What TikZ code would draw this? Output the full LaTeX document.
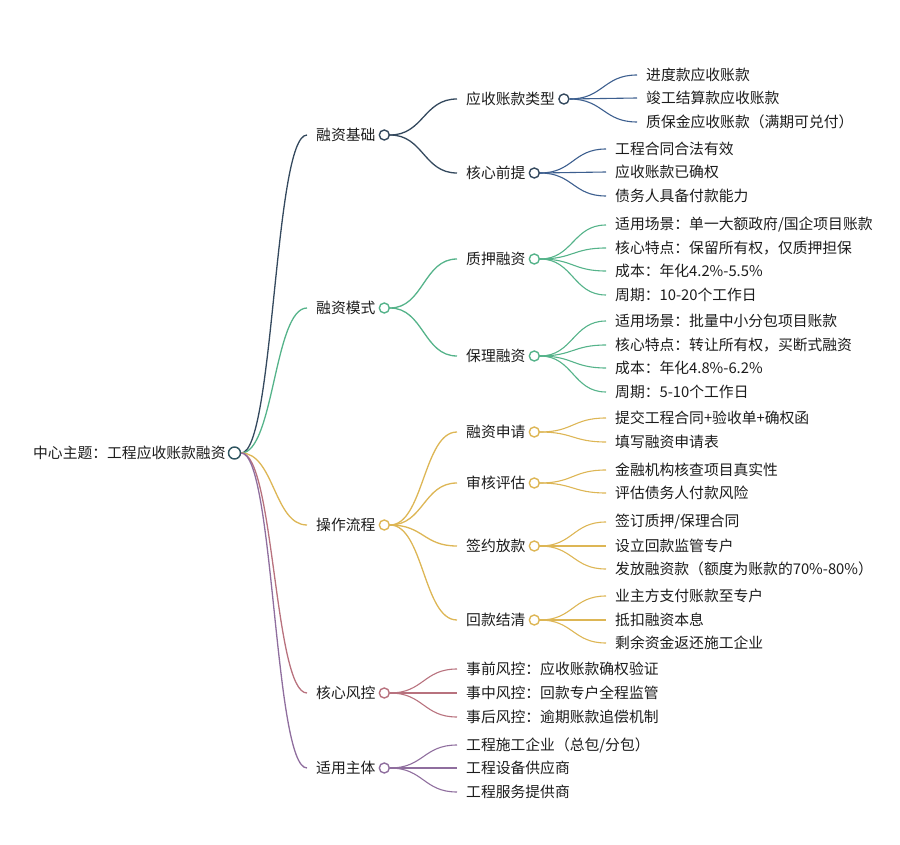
\documentclass[tikz,border=0pt]{standalone}
\usepackage{fontspec}
\setmainfont{Noto Sans CJK SC}
\usetikzlibrary{positioning,calc}
\definecolor{ink}{HTML}{1C1C1C}
\definecolor{rootc}{HTML}{2F5560}
\definecolor{navy}{HTML}{34495E}
\definecolor{steel}{HTML}{3D5F8F}
\definecolor{mint}{HTML}{55B38A}
\definecolor{gold}{HTML}{DDB655}
\definecolor{rose}{HTML}{B8727E}
\definecolor{plum}{HTML}{8F6E9E}

\begin{document}
\begin{tikzpicture}[x=1pt,y=-1pt,
  txt/.style={anchor=west,inner sep=0pt,text=ink,font=\fontsize{14.8}{16}\selectfont},
  dot/.style={circle,draw=#1,fill=white,line width=1.4pt,minimum size=10pt,inner sep=0pt},
  link/.style={draw=#1,line width=1.3pt,
    to path={let \p1=(\tikztostart),\p2=($(\tikztotarget)+(-9pt,0pt)$) in
      .. controls ({(\x1+\x2)/2},\y1) and ({(\x1+\x2)/2},\y2) .. (\p2) \tikztonodes}},
  leaf/.style={link=#1,line width=1.1pt}]
  \useasboundingbox (0,0) rectangle (900,845);

  % root
  \node[txt] (r) at (33,453) {中心主题：工程应收账款融资};
  \node[dot=rootc,minimum size=12pt,right=2pt of r] (rc) {};

  % first level
  \node[txt] (a1) at (316,135) {融资基础};
  \node[txt] (a2) at (316,308) {融资模式};
  \node[txt] (a3) at (316,525) {操作流程};
  \node[txt] (a4) at (316,693) {核心风控};
  \node[txt] (a5) at (316,768) {适用主体};
  \foreach \i/\c in {1/navy,2/mint,3/gold,4/rose,5/plum}{
    \node[dot=\c,right=3pt of a\i] (a\i c) {};
    \draw[link=\c] (rc.east) to (a\i.west);
  }

  % second level
  \node[txt] (b1) at (466,99) {应收账款类型};
  \node[txt] (b2) at (466,173) {核心前提};
  \node[txt] (b3) at (466,259) {质押融资};
  \node[txt] (b4) at (466,356) {保理融资};
  \node[txt] (b5) at (466,432) {融资申请};
  \node[txt] (b6) at (466,483) {审核评估};
  \node[txt] (b7) at (466,546) {签约放款};
  \node[txt] (b8) at (466,620) {回款结清};
  \foreach \i/\p/\c in {1/1/navy,2/1/navy,3/2/mint,4/2/mint,5/3/gold,6/3/gold,7/3/gold,8/3/gold}{
    \node[dot=\c,right=3pt of b\i] (b\i c) {};
    \draw[link=\c] (a\p c.east) to (b\i.west);
  }

  % leaves
  \foreach \y/\t [count=\i] in {75/进度款应收账款,98/竣工结算款应收账款,122/{质保金应收账款（满期可兑付）}}{
    \node[txt] (l1\i) at (646,\y) {\t};
    \draw[leaf=steel] (b1c.east) to (l1\i.west);
  }
  \foreach \y/\t [count=\i] in {149/工程合同合法有效,172/应收账款已确权,196/债务人具备付款能力}{
    \node[txt] (l2\i) at (615,\y) {\t};
    \draw[leaf=steel] (b2c.east) to (l2\i.west);
  }
  \foreach \y/\t [count=\i] in {225/{适用场景：单一大额政府/国企项目账款},248/{核心特点：保留所有权，仅质押担保},271/{成本：年化4.2\%-5.5\%},295/{周期：10-20个工作日}}{
    \node[txt] (l3\i) at (615,\y) {\t};
    \draw[leaf=mint] (b3c.east) to (l3\i.west);
  }
  \foreach \y/\t [count=\i] in {321/{适用场景：批量中小分包项目账款},345/{核心特点：转让所有权，买断式融资},368/{成本：年化4.8\%-6.2\%},392/{周期：5-10个工作日}}{
    \node[txt] (l4\i) at (615,\y) {\t};
    \draw[leaf=mint] (b4c.east) to (l4\i.west);
  }
  \foreach \y/\t [count=\i] in {418/{提交工程合同+验收单+确权函},442/填写融资申请表}{
    \node[txt] (l5\i) at (615,\y) {\t};
    \draw[leaf=gold] (b5c.east) to (l5\i.west);
  }
  \foreach \y/\t [count=\i] in {470/金融机构核查项目真实性,493/评估债务人付款风险}{
    \node[txt] (l6\i) at (615,\y) {\t};
    \draw[leaf=gold] (b6c.east) to (l6\i.west);
  }
  \foreach \y/\t [count=\i] in {522/{签订质押/保理合同},546/设立回款监管专户,569/{发放融资款（额度为账款的70\%-80\%）}}{
    \node[txt] (l7\i) at (615,\y) {\t};
    \draw[leaf=gold] (b7c.east) to (l7\i.west);
  }
  \foreach \y/\t [count=\i] in {596/业主方支付账款至专户,620/抵扣融资本息,643/剩余资金返还施工企业}{
    \node[txt] (l8\i) at (615,\y) {\t};
    \draw[leaf=gold] (b8c.east) to (l8\i.west);
  }
  \foreach \y/\t [count=\i] in {669/事前风控：应收账款确权验证,693/事中风控：回款专户全程监管,717/事后风控：逾期账款追偿机制}{
    \node[txt] (m4\i) at (466,\y) {\t};
    \draw[leaf=rose] (a4c.east) to (m4\i.west);
  }
  \foreach \y/\t [count=\i] in {745/{工程施工企业（总包/分包）},768/工程设备供应商,792/工程服务提供商}{
    \node[txt] (m5\i) at (466,\y) {\t};
    \draw[leaf=plum] (a5c.east) to (m5\i.west);
  }
\end{tikzpicture}
\end{document}
